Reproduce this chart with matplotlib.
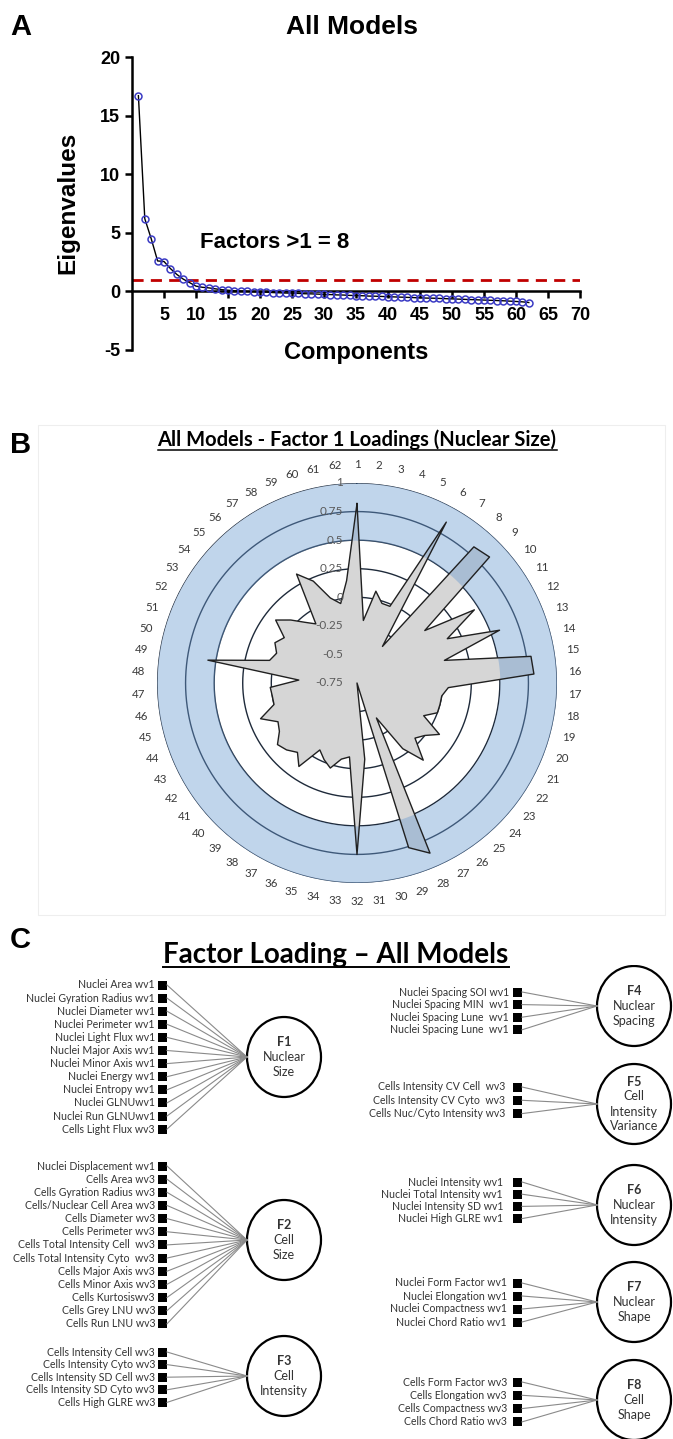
import matplotlib
matplotlib.use("Agg")
import matplotlib.pyplot as plt
from matplotlib.patches import Ellipse, Rectangle
from matplotlib.lines import Line2D
import numpy as np

W, H = 673, 1439
ARIAL = ["Liberation Sans", "DejaVu Sans"]
NARROW = ["Liberation Sans Narrow", "Liberation Sans", "DejaVu Sans"]
CAL = ["Lato", "DejaVu Sans"]
plt.rcParams["axes.unicode_minus"] = False

# ---------------- panel A: scree plot ----------------
components = list(range(1, 63))
eigenvalues = [16.7, 6.2, 4.5, 2.6, 2.55, 1.95, 1.45, 1.05, 0.75, 0.45,
               0.35, 0.3, 0.22, 0.15, 0.1, 0.06, 0.03, 0.0, -0.02, -0.05,
               -0.07, -0.1, -0.12, -0.14, -0.15, -0.17, -0.2, -0.21, -0.23, -0.26,
               -0.27, -0.3, -0.31, -0.34, -0.35, -0.37, -0.4, -0.41, -0.43, -0.45,
               -0.47, -0.49, -0.51, -0.53, -0.55, -0.57, -0.58, -0.6, -0.62, -0.64,
               -0.66, -0.68, -0.7, -0.72, -0.74, -0.76, -0.78, -0.8, -0.83, -0.86,
               -0.89, -0.95]
eigen_cutoff = 1.0

# ---------------- panel B: factor 1 loadings radar ----------------
item_ids = list(range(1, 63))
f1_loadings = [0.82, -0.20, 0.07, -0.02, -0.02, 0.86, -0.36, 0.82, 0.85, 0.00,
               0.46, 0.13, 0.58, 0.04, 0.79, 0.80, 0.05, 0.00, 0.00, 0.00,
               -0.10, 0.10, 0.00, -0.05, 0.14, -0.05, -0.40, 0.87, 0.76, -0.75,
               -0.08, 0.75, -0.10, -0.07, 0.03, -0.02, -0.08, 0.14, 0.05, 0.10,
               0.13, 0.05, 0.02, 0.15, 0.00, 0.00, 0.01, -0.24, 0.57, 0.04,
               0.00, 0.05, 0.00, 0.15, 0.05, -0.05, -0.12, 0.34, 0.22, 0.03,
               -0.04, 0.15]
ring_values = [1, 0.75, 0.5, 0.25, 0, -0.25, -0.5, -0.75]
ring_labels = ["1", "0.75", "0.5", "0.25", "0", "-0.25", "-0.5", "-0.75"]
band_low, band_high = 0.5, 1.0

# ---------------- panel C: factor loading diagram ----------------
f1_vars = ["Nuclei Area wv1", "Nuclei Gyration Radius wv1", "Nuclei Diameter wv1",
           "Nuclei Perimeter wv1", "Nuclei Light Flux wv1", "Nuclei Major Axis wv1",
           "Nuclei Minor Axis wv1", "Nuclei Energy wv1", "Nuclei Entropy wv1",
           "Nuclei GLNUwv1", "Nuclei Run GLNUwv1", "Cells Light Flux wv3"]
f2_vars = ["Nuclei Displacement wv1", "Cells Area wv3", "Cells Gyration Radius wv3",
           "Cells/Nuclear Cell Area wv3", "Cells Diameter wv3", "Cells Perimeter wv3",
           "Cells Total Intensity Cell  wv3", "Cells Total Intensity Cyto  wv3",
           "Cells Major Axis wv3", "Cells Minor Axis wv3", "Cells Kurtosiswv3",
           "Cells Grey LNU wv3", "Cells Run LNU wv3"]
f3_vars = ["Cells Intensity Cell wv3", "Cells Intensity Cyto wv3",
           "Cells Intensity SD Cell wv3", "Cells Intensity SD Cyto wv3",
           "Cells High GLRE wv3"]
f4_vars = ["Nuclei Spacing SOI wv1", "Nuclei Spacing MIN  wv1",
           "Nuclei Spacing Lune  wv1", "Nuclei Spacing Lune  wv1"]
f5_vars = ["Cells Intensity CV Cell  wv3", "Cells Intensity CV Cyto  wv3",
           "Cells Nuc/Cyto Intensity wv3"]
f6_vars = ["Nuclei Intensity wv1", "Nuclei Total Intensity wv1",
           "Nuclei Intensity SD wv1", "Nuclei High GLRE wv1"]
f7_vars = ["Nuclei Form Factor wv1", "Nuclei Elongation wv1",
           "Nuclei Compactness wv1", "Nuclei Chord Ratio wv1"]
f8_vars = ["Cells Form Factor wv3", "Cells Elongation wv3",
           "Cells Compactness wv3", "Cells Chord Ratio wv3"]
factor_codes = ["F1", "F2", "F3", "F4", "F5", "F6", "F7", "F8"]
factor_names = [["Nuclear", "Size"], ["Cell", "Size"], ["Cell", "Intensity"],
                ["Nuclear", "Spacing"], ["Cell", "Intensity", "Variance"],
                ["Nuclear", "Intensity"], ["Nuclear", "Shape"], ["Cell", "Shape"]]
factor_vars = [f1_vars, f2_vars, f3_vars, f4_vars, f5_vars, f6_vars, f7_vars, f8_vars]

# layout of panel C (pixels from top-left): first row y, row step, text right x,
# square left x, circle centre x, circle centre y
LAYOUT_C = [(985, 13.1, 155, 158, 284, 1057),
            (1166, 13.15, 155, 158, 284, 1240),
            (1352, 12.6, 155, 158, 284, 1376),
            (992, 12.6, 509, 513, 634, 1006),
            (1087, 13.3, 505, 513, 634, 1104),
            (1182, 12.2, 503, 513, 634, 1205),
            (1283, 13.0, 507, 513, 634, 1302),
            (1382, 13.3, 507, 513, 634, 1400)]


def fx(x):
    return x / W


def fy(y):
    return 1 - y / H


def underline(fig, txt, lw=1.2):
    fig.canvas.draw()
    bb = txt.get_window_extent().transformed(fig.transFigure.inverted())
    fig.add_artist(Line2D([bb.x0, bb.x1], [bb.y0 + 0.0005, bb.y0 + 0.0005],
                          color="black", lw=lw, transform=fig.transFigure))


def panel_a(fig):
    ax = fig.add_axes([fx(132), fy(350), fx(580) - fx(132), fy(57) - fy(350)])
    ax.plot(components, eigenvalues, color="black", lw=1.0, marker="o", ms=5,
            mfc="none", mec="#3b3bc4", mew=1.1, zorder=3)
    ax.axhline(eigen_cutoff, color="#c00000", lw=2.0, ls=(0, (4, 2.6)), zorder=2)
    ax.set_xlim(0, 70)
    ax.set_ylim(-5, 20)
    ax.spines["top"].set_visible(False)
    ax.spines["right"].set_visible(False)
    ax.spines["bottom"].set_position(("data", 0))
    ax.spines["bottom"].set_linewidth(1.8)
    ax.spines["left"].set_linewidth(1.8)
    ax.set_xticks(range(5, 71, 5))
    ax.set_yticks(range(-5, 21, 5))
    ax.tick_params(axis="both", width=1.8, length=5, labelsize=13)
    ax.tick_params(axis="x", pad=6)
    for lab in ax.get_xticklabels() + ax.get_yticklabels():
        lab.set_fontweight("bold")
        lab.set_family(NARROW)
    fig.text(fx(200), fy(242), "Factors >1 = 8", fontsize=16, fontweight="bold",
             family=NARROW, ha="left", va="center")
    fig.text(fx(68), fy(203), "Eigenvalues", rotation=90, fontsize=17.5,
             fontweight="bold", family=NARROW, ha="center", va="center")
    fig.text(fx(356), fy(352), "Components", fontsize=17, fontweight="bold",
             family=NARROW, ha="center", va="center")
    fig.text(fx(352), fy(27), "All Models", fontsize=19, fontweight="bold",
             family=NARROW, ha="center", va="center")
    fig.text(fx(10), fy(27), "A", fontsize=21, fontweight="bold", family=ARIAL,
             ha="left", va="center")


def panel_b(fig):
    fig.add_artist(Rectangle((fx(38), fy(915)), fx(665) - fx(38), fy(425) - fy(915),
                             transform=fig.transFigure, fill=False,
                             edgecolor="#eeeeee", lw=0.8))
    t = fig.text(fx(357), fy(440), "All Models - Factor 1 Loadings (Nuclear Size)",
                 fontsize=14.5, fontweight="bold", family=CAL, ha="center", va="center")
    underline(fig, t, lw=1.1)
    fig.text(fx(10), fy(445), "B", fontsize=21, fontweight="bold", family=ARIAL,
             ha="left", va="center")

    cx, cy, rad = 357, 683, 200
    ax = fig.add_axes([fx(cx - rad), fy(cy + rad), fx(2 * rad), 2 * rad / H],
                      projection="polar")
    ax.set_theta_zero_location("N")
    ax.set_theta_direction(-1)
    ax.set_ylim(-0.75, 1.0)
    ax.set_axis_off()

    full = np.linspace(0, 2 * np.pi, 721)
    for r in ring_values[:-1]:
        ax.plot(full, np.full_like(full, r), color="#1e2a3a", lw=1.0, zorder=1.5)

    n = len(item_ids)
    ang = [2 * np.pi * i / n for i in range(n)]
    ang_c = ang + [ang[0]]
    val_c = f1_loadings + [f1_loadings[0]]
    ax.fill(ang_c, val_c, color="#d6d6d6", lw=0, zorder=2)
    ax.fill_between(full, band_low, band_high, color="#6b9bd1", alpha=0.42,
                    lw=0, zorder=3)
    ax.plot(ang_c, val_c, color="#202020", lw=1.0, zorder=4)

    for r, lab in zip(ring_values, ring_labels):
        ax.annotate(lab, xy=(0, r), xytext=(-10, 0), textcoords="offset points",
                    ha="right", va="center", fontsize=8.5, color="#5a5a5a",
                    family=CAL, zorder=5)
    for a, k in zip(ang, item_ids):
        ax.text(a, 1.16, str(k), ha="center", va="center", fontsize=8.3,
                color="#3a3a3a", family=CAL)


def panel_c(fig):
    t = fig.text(fx(336), fy(955), "Factor Loading \u2013 All Models", fontsize=20,
                 fontweight="bold", family=CAL, ha="center", va="center")
    underline(fig, t, lw=1.4)
    fig.text(fx(10), fy(940), "C", fontsize=21, fontweight="bold", family=ARIAL,
             ha="left", va="center")

    ax = fig.add_axes([0, 0, 1, (H - 965) / H])
    ax.set_xlim(0, W)
    ax.set_ylim(H, 965)
    ax.set_axis_off()

    rx, ry = 37, 40
    sq = 9
    for code, names, vars_, lay in zip(factor_codes, factor_names, factor_vars, LAYOUT_C):
        y0, step, tx, sx, ccx, ccy = lay
        for i, v in enumerate(vars_):
            y = y0 + i * step
            ax.text(tx, y, v, ha="right", va="center", fontsize=7.6,
                    color="#333333", family=CAL)
            ax.add_patch(Rectangle((sx, y - sq / 2), sq, sq, color="black", lw=0))
            ax.plot([sx + sq, ccx - rx], [y, ccy], color="#8a8a8a", lw=0.8)
        ax.add_patch(Ellipse((ccx, ccy), 2 * rx, 2 * ry, fill=False,
                             edgecolor="black", lw=1.6))
        lines = [code] + names
        gap = 15
        top = ccy - gap * (len(lines) - 1) / 2
        for j, s in enumerate(lines):
            ax.text(ccx, top + j * gap, s, ha="center", va="center",
                    fontsize=9, fontweight="bold" if j == 0 else "normal",
                    color="#333333", family=CAL)


def main():
    fig = plt.figure(figsize=(W / 100, H / 100), dpi=100)
    fig.patch.set_facecolor("white")
    panel_a(fig)
    panel_b(fig)
    panel_c(fig)
    fig.savefig("out.png", dpi=100, facecolor="white")
    plt.close(fig)


if __name__ == "__main__":
    main()
